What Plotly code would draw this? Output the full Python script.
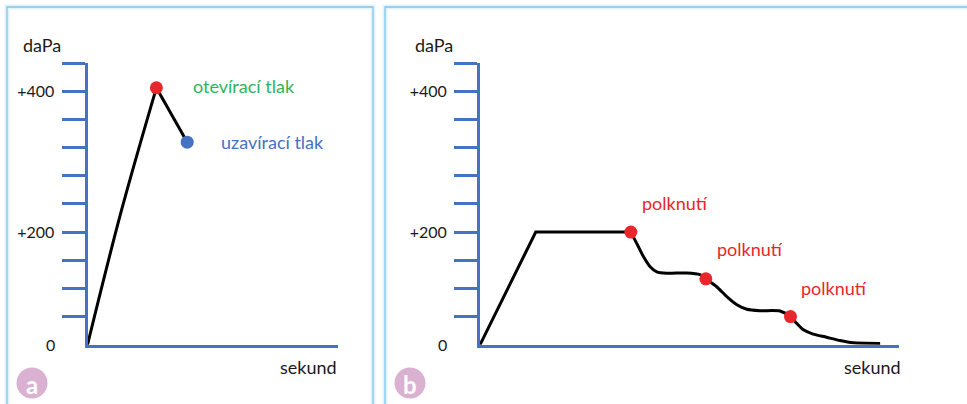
import plotly.graph_objects as go

W, H = 967, 404

# Pressure scale (schematic divisions on the vertical axis)
y_tickvals = [1, 2, 3, 4, 5, 6, 7, 8, 9, 10]
y_ticktext = ["", "", "", "+200", "", "", "", "", "+400", ""]
zero_label = "0"

# Panel a: pressure rise until the tube opens, then drop to the closing pressure
a_rise_t = [0.0, 1.35, 2.75]
a_rise_p = [0.0, 4.75, 9.12]
a_open_t, a_open_p = 2.75, 9.12
a_close_t, a_close_p = 3.98, 7.19
a_open_label = "otevírací tlak"
a_close_label = "uzavírací tlak"

# Panel b: pressure plateau and stepwise release with each swallow
b_ramp_t = [0.0, 1.33, 3.60]
b_ramp_p = [0.0, 4.0, 4.0]
b_decay_t = [3.60, 3.74, 3.90, 4.06, 4.22, 4.46, 4.93, 5.25, 5.39, 5.65, 5.89,
             6.13, 6.37, 6.68, 7.16, 7.41, 7.56, 7.72, 7.95, 8.27, 8.59, 8.91, 9.55]
b_decay_p = [4.0, 3.60, 3.13, 2.77, 2.59, 2.54, 2.55, 2.49, 2.34, 2.06, 1.71,
             1.42, 1.26, 1.21, 1.20, 1.00, 0.76, 0.53, 0.38, 0.27, 0.15, 0.07, 0.05]
b_swallow_t = [3.60, 5.39, 7.41]
b_swallow_p = [4.0, 2.34, 1.00]
b_swallow_label = "polknutí"

axis_title_y = "daPa"
axis_title_x = "sekund"
panel_letters = ["a", "b"]

AXIS_BLUE = "#4472c4"
RED = "#e8262b"
GREEN = "#2fb35a"
BLUE_DOT = "#4472c4"
TEXT = "#1a1a1a"
FONT = "Lato"


def px_x(p):
    return p / W


def px_y(p):
    return 1 - p / H


fig = go.Figure()

# --- panel a ---
fig.add_trace(go.Scatter(x=a_rise_t, y=a_rise_p, mode="lines",
                         line=dict(color="black", width=3, shape="spline", smoothing=1.0),
                         xaxis="x", yaxis="y", hoverinfo="skip"))
fig.add_trace(go.Scatter(x=[a_open_t, a_close_t], y=[a_open_p, a_close_p], mode="lines",
                         line=dict(color="black", width=3),
                         xaxis="x", yaxis="y", hoverinfo="skip"))
fig.add_trace(go.Scatter(x=[a_open_t], y=[a_open_p], mode="markers",
                         marker=dict(color=RED, size=13),
                         xaxis="x", yaxis="y", cliponaxis=False))
fig.add_trace(go.Scatter(x=[a_close_t], y=[a_close_p], mode="markers",
                         marker=dict(color=BLUE_DOT, size=13),
                         xaxis="x", yaxis="y", cliponaxis=False))

# --- panel b ---
fig.add_trace(go.Scatter(x=b_ramp_t, y=b_ramp_p, mode="lines",
                         line=dict(color="black", width=3),
                         xaxis="x2", yaxis="y2", hoverinfo="skip"))
fig.add_trace(go.Scatter(x=b_decay_t, y=b_decay_p, mode="lines",
                         line=dict(color="black", width=3, shape="spline", smoothing=0.6),
                         xaxis="x2", yaxis="y2", hoverinfo="skip"))
fig.add_trace(go.Scatter(x=b_swallow_t, y=b_swallow_p, mode="markers",
                         marker=dict(color=RED, size=13),
                         xaxis="x2", yaxis="y2", cliponaxis=False))

x_common = dict(range=[0, 10], showline=True, linecolor=AXIS_BLUE, linewidth=3,
                ticks="", showticklabels=False, showgrid=False, zeroline=False,
                fixedrange=True)
y_common = dict(range=[0, 10], showline=True, linecolor=AXIS_BLUE, linewidth=3,
                ticks="outside", tickvals=y_tickvals, ticktext=y_ticktext,
                ticklen=23, tickwidth=3, tickcolor=AXIS_BLUE,
                tickfont=dict(family=FONT, size=16, color=TEXT),
                ticklabelstandoff=4,
                showgrid=False, zeroline=False, fixedrange=True,
                domain=[px_y(344.8), px_y(63)])

fig.update_layout(
    width=W, height=H,
    margin=dict(l=0, r=0, t=0, b=0),
    paper_bgcolor="white", plot_bgcolor="white",
    showlegend=False,
    font=dict(family=FONT, color=TEXT),
    xaxis=dict(x_common, domain=[px_x(87.5), px_x(338)], anchor="y"),
    yaxis=dict(y_common, anchor="x"),
    xaxis2=dict(x_common, domain=[px_x(480), px_x(899)], anchor="y2"),
    yaxis2=dict(y_common, anchor="x2"),
)

# panel frames with a soft glow
shapes = []
for x0, x1 in [(7, 373), (385, 975)]:
    shapes.append(dict(type="rect", xref="paper", yref="paper",
                       x0=px_x(x0), x1=px_x(x1), y0=px_y(420), y1=px_y(7),
                       line=dict(color="rgba(175,220,243,0.35)", width=5),
                       fillcolor="rgba(0,0,0,0)", layer="below"))
    shapes.append(dict(type="rect", xref="paper", yref="paper",
                       x0=px_x(x0), x1=px_x(x1), y0=px_y(420), y1=px_y(7),
                       line=dict(color="#7cc8ec", width=1.3),
                       fillcolor="rgba(0,0,0,0)", layer="below"))

# panel letter badges
badge_centres = [(32, 383), (410, 383)]
for (cx, cy) in badge_centres:
    r = 15.5
    shapes.append(dict(type="circle", xref="paper", yref="paper",
                       x0=px_x(cx - r), x1=px_x(cx + r), y0=px_y(cy + r), y1=px_y(cy - r),
                       fillcolor="#dbb1d2", line=dict(width=0)))
fig.update_layout(shapes=shapes)

ann = []
for (cx, cy), letter in zip(badge_centres, panel_letters):
    ann.append(dict(x=px_x(cx), y=px_y(cy + 1), xref="paper", yref="paper",
                    text=f"<b>{letter}</b>", showarrow=False,
                    font=dict(family=FONT, size=24, color="white"),
                    xanchor="center", yanchor="middle"))

for xr, yr, sx in [("x", "y", 1), ("x2", "y2", 4)]:
    ann.append(dict(x=0, y=1, xref=f"{xr} domain", yref=f"{yr} domain",
                    text=axis_title_y, showarrow=False, xanchor="center", yanchor="middle",
                    xshift=-46, yshift=18, font=dict(family=FONT, size=18, color=TEXT)))
    ann.append(dict(x=1, y=0, xref=f"{xr} domain", yref=f"{yr} domain",
                    text=axis_title_x, showarrow=False, xanchor="right", yanchor="middle",
                    xshift=sx, yshift=-22, font=dict(family=FONT, size=18, color=TEXT)))
    ann.append(dict(x=0, y=0, xref=f"{xr} domain", yref=yr,
                    text=zero_label, showarrow=False, xanchor="right", yanchor="middle",
                    xshift=-31, font=dict(family=FONT, size=16, color=TEXT)))

ann.append(dict(x=a_open_t, y=a_open_p, xref="x", yref="y", text=a_open_label,
                showarrow=False, xanchor="left", yanchor="middle", xshift=35, yshift=2,
                font=dict(family=FONT, size=18, color=GREEN)))
ann.append(dict(x=a_close_t, y=a_close_p, xref="x", yref="y", text=a_close_label,
                showarrow=False, xanchor="left", yanchor="middle", xshift=32, yshift=0,
                font=dict(family=FONT, size=18, color=BLUE_DOT)))

for t, p, dx, dy in zip(b_swallow_t, b_swallow_p, [9, 9, 9], [29, 30, 29]):
    ann.append(dict(x=t, y=p, xref="x2", yref="y2", text=b_swallow_label,
                    showarrow=False, xanchor="left", yanchor="middle", xshift=dx, yshift=dy,
                    font=dict(family=FONT, size=18, color=RED)))

fig.update_layout(annotations=ann)

fig.write_html("out.html")
